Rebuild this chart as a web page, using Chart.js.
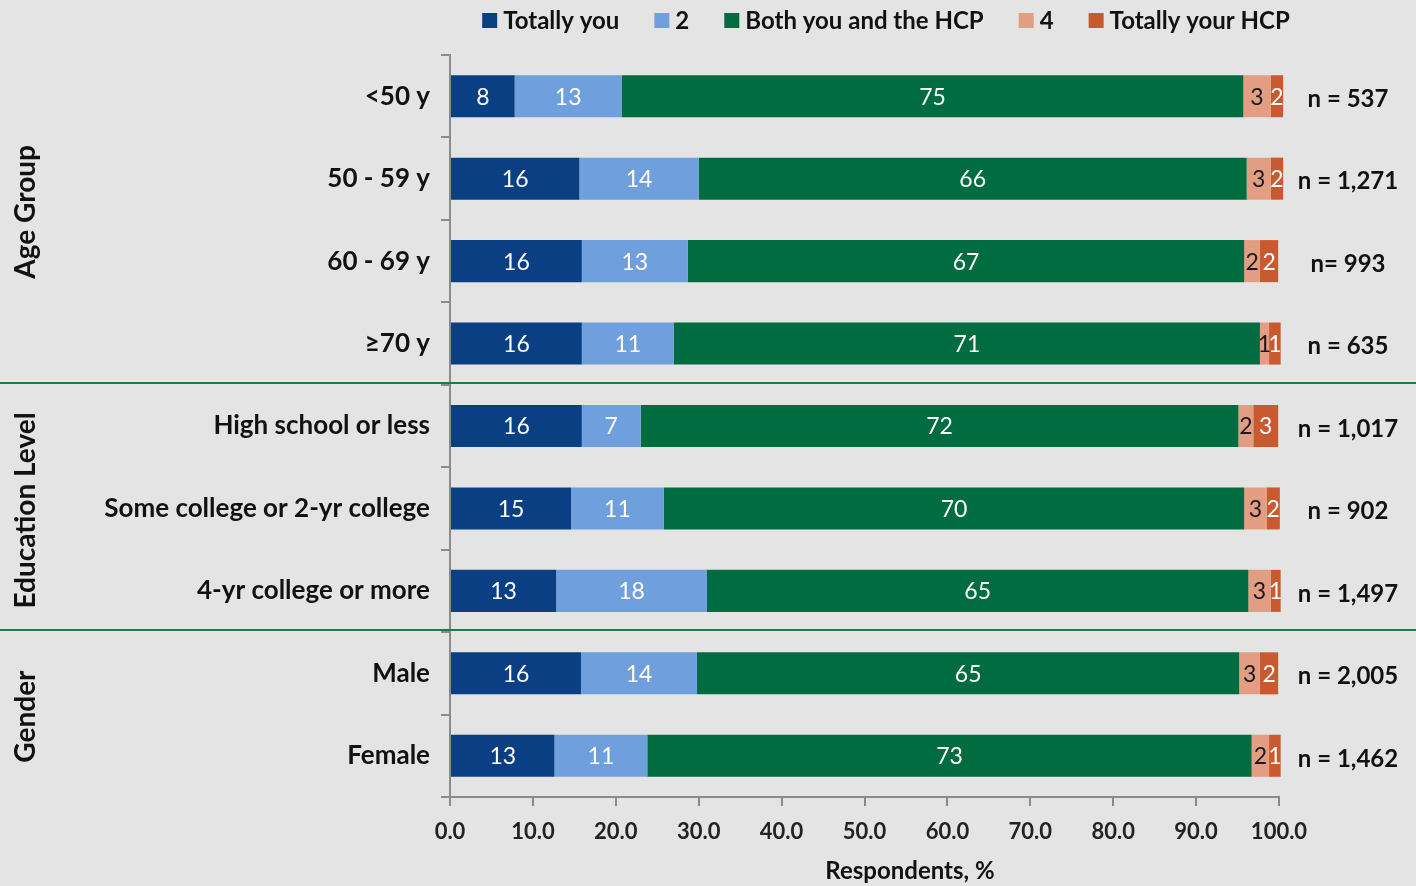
<!DOCTYPE html>
<html>
<head>
<meta charset="utf-8">
<script src="https://cdn.jsdelivr.net/npm/chart.js@4/dist/chart.umd.min.js"></script>
<style>
  html, body { margin: 0; padding: 0; background: #e4e4e4; }
  #wrap { width: 1416px; height: 886px; position: relative; }
</style>
</head>
<body>
<div id="wrap"><canvas id="chart"></canvas></div>
<script>
// Données (en %)
const categories = ['<50 y', '50 - 59 y', '60 - 69 y', '\u226570 y', 'High school or less',
  'Some college or 2-yr college', '4-yr college or more', 'Male', 'Female'];
const seriesNames = ['Totally you', '2', 'Both you and the HCP', '4', 'Totally your HCP'];
const totallyYou = [7.8, 15.6, 15.9, 15.9, 15.9, 14.6, 12.8, 15.8, 12.6];
const two = [12.9, 14.4, 12.8, 11.1, 7.1, 11.2, 18.2, 14.0, 11.2];
const both = [75.0, 66.1, 67.1, 70.7, 72.1, 70.0, 65.3, 65.4, 72.9];
const four = [3.3, 2.9, 1.9, 1.1, 1.8, 2.7, 2.7, 2.5, 2.1];
const totallyHcp = [1.5, 1.5, 2.2, 1.4, 3.0, 1.6, 1.2, 2.2, 1.4];
const nLabels = ['n = 537', 'n = 1,271', 'n= 993', 'n = 635', 'n = 1,017', 'n = 902',
  'n = 1,497', 'n = 2,005', 'n = 1,462'];
const groupNames = ['Age Group', 'Education Level', 'Gender'];
const groupFirst = [0, 4, 7];
const groupLast = [3, 6, 8];
const xTicks = [0, 10, 20, 30, 40, 50, 60, 70, 80, 90, 100];

const colors = ['#0b3f84', '#6f9fdc', '#006c3f', '#e39d82', '#c95a2f'];
const labelColors = ['#ffffff', '#ffffff', '#ffffff', '#1a1a1a', '#ffffff'];
const FONT = 'Lato';

const overlay = {
  id: 'overlay',
  afterDatasetsDraw(chart) {
    const ctx = chart.ctx;
    ctx.save();
    ctx.font = '23px ' + FONT;
    ctx.textAlign = 'center';
    ctx.textBaseline = 'middle';
    chart.data.datasets.forEach((ds, i) => {
      chart.getDatasetMeta(i).data.forEach((bar, j) => {
        const left = Math.min(bar.x, bar.base);
        const right = Math.max(bar.x, bar.base);
        ctx.fillStyle = labelColors[i];
        ctx.fillText(String(Math.round(ds.data[j])), (left + right) / 2, bar.y + 1);
      });
    });
    ctx.restore();
  },
  afterDraw(chart) {
    const ctx = chart.ctx;
    const y = chart.scales.y;
    const area = chart.chartArea;
    ctx.save();

    // lignes de séparation des groupes
    ctx.strokeStyle = '#1d7a4f';
    ctx.lineWidth = 2;
    for (let g = 0; g < groupFirst.length - 1; g++) {
      const yy = Math.round((y.getPixelForValue(groupLast[g]) + y.getPixelForValue(groupFirst[g + 1])) / 2) - 2;
      ctx.beginPath();
      ctx.moveTo(0, yy);
      ctx.lineTo(chart.width, yy);
      ctx.stroke();
    }

    // noms des groupes (verticaux)
    ctx.fillStyle = '#111';
    ctx.font = 'bold 28px ' + FONT;
    ctx.textAlign = 'center';
    ctx.textBaseline = 'middle';
    const half = (y.getPixelForValue(1) - y.getPixelForValue(0)) / 2;
    groupNames.forEach((name, g) => {
      const top = y.getPixelForValue(groupFirst[g]) - half;
      const bottom = y.getPixelForValue(groupLast[g]) + half;
      ctx.save();
      ctx.translate(26, (top + bottom) / 2 + (g === 0 ? -8 : 2));
      ctx.rotate(-Math.PI / 2);
      ctx.fillText(name, 0, 0);
      ctx.restore();
    });

    // effectifs à droite
    ctx.font = 'bold 24px ' + FONT;
    ctx.textAlign = 'center';
    nLabels.forEach((t, j) => {
      ctx.fillText(t, area.right + 69, y.getPixelForValue(j) + 3);
    });

    // titre de l'axe x
    ctx.font = 'bold 24px ' + FONT;
    ctx.textAlign = 'center';
    ctx.fillText('Respondents, %', 910, 871);

    // légende
    ctx.font = 'bold 24px ' + FONT;
    ctx.textAlign = 'left';
    const widths = seriesNames.map(s => ctx.measureText(s).width);
    const box = 15, gapBox = 6, gapItem = 35;
    let total = 0;
    widths.forEach(w => { total += box + gapBox + w; });
    total += gapItem * (seriesNames.length - 1);
    let x = 886 - total / 2;
    seriesNames.forEach((s, i) => {
      ctx.fillStyle = colors[i];
      ctx.fillRect(x, 13, box, box);
      ctx.fillStyle = '#111';
      ctx.fillText(s, x + box + gapBox, 21);
      x += box + gapBox + widths[i] + gapItem;
    });
    ctx.restore();
  }
};

const ctx = document.getElementById('chart').getContext('2d');
const myChart = new Chart(ctx, {
  type: 'bar',
  data: {
    labels: categories,
    datasets: [totallyYou, two, both, four, totallyHcp].map((d, i) => ({
      label: seriesNames[i],
      data: d,
      backgroundColor: colors[i],
      borderWidth: 0,
      clip: false,
      categoryPercentage: 1,
      barPercentage: 0.51
    }))
  },
  options: {
    indexAxis: 'y',
    responsive: true,
    maintainAspectRatio: false,
    animation: false,
    layout: { padding: { left: 0, right: 137, top: 55, bottom: 0 } },
    plugins: {
      legend: { display: false },
      tooltip: { enabled: false }
    },
    scales: {
      x: {
        stacked: true,
        min: 0,
        max: 100,
        afterBuildTicks: s => { s.ticks = xTicks.map(v => ({ value: v })); },
        afterFit: s => { s.height = 89; },
        grid: { display: true, drawOnChartArea: false, drawTicks: true, tickLength: 9, color: '#8a8a8a', lineWidth: 2 },
        border: { display: true, color: '#8a8a8a', width: 2 },
        ticks: {
          callback: v => Number(v).toFixed(1),
          font: { family: FONT, size: 22, weight: 'bold' },
          color: '#222',
          padding: 13,
          maxRotation: 0
        }
      },
      y: {
        stacked: true,
        afterFit: s => { s.width = 450; },
        grid: { display: true, drawOnChartArea: false, drawTicks: true, tickLength: 9, color: '#8a8a8a', lineWidth: 2, offset: true },
        border: { display: true, color: '#8a8a8a', width: 2 },
        ticks: {
          font: { family: FONT, size: 26, weight: 'bold' },
          color: '#111',
          padding: 11
        }
      }
    }
  },
  plugins: [overlay]
});
</script>
</body>
</html>
